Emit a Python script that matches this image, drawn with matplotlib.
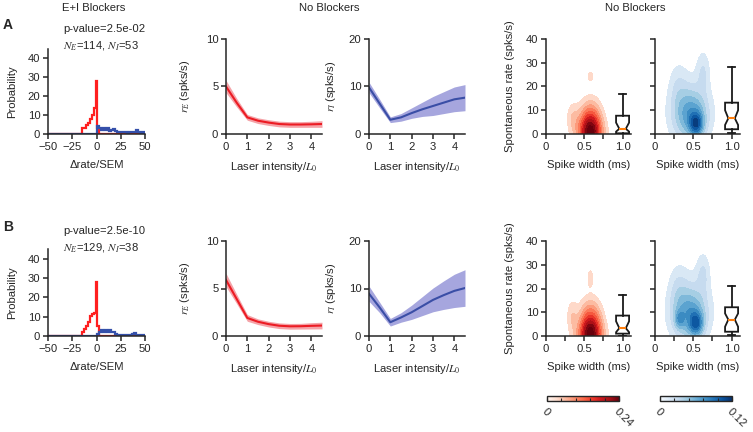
"""
Spike-rate panels: E+I blocker histograms, laser response curves and spike width densities
"""
import numpy as np
import matplotlib
matplotlib.use("Agg")
import matplotlib.pyplot as plt
from matplotlib.colors import Normalize
from matplotlib.colorbar import ColorbarBase

plt.rcParams['font.family'] = ['Liberation Sans', 'DejaVu Sans']
plt.rcParams['mathtext.fontset'] = 'stix'
plt.rcParams['font.size'] = 8.1
plt.rcParams['axes.linewidth'] = 1.1
plt.rcParams['text.color'] = '#262626'
plt.rcParams['axes.labelcolor'] = '#262626'
plt.rcParams['axes.edgecolor'] = '#262626'
plt.rcParams['xtick.color'] = '#262626'
plt.rcParams['ytick.color'] = '#262626'

# ---- histogram of delta rate / SEM (bin width 2, centres -50..50) ----
hist_centers = np.arange(-50, 51, 2)
hist_edges = np.arange(-51, 52, 2)

e_hist_a_centers = [-14, -12, -10, -8, -6, -4, -2, 0, 2]
e_hist_a_values = [3, 3, 5, 6, 8, 10, 14, 28, 3]
i_hist_a_centers = [2, 4, 6, 8, 10, 12, 14, 16, 18, 20, 22, 24, 26, 28, 30,
                    32, 34, 36, 38, 40, 42, 44, 46, 48, 50]
i_hist_a_values = [4, 3, 2, 3, 2, 3, 1.5, 2, 2.5, 1.5, 1, 1, 1, 1, 1,
                   0.5, 1, 1, 1, 1, 2, 1, 0.5, 1, 0.5]

e_hist_b_centers = [-14, -12, -10, -8, -6, -4, -2, 0, 2]
e_hist_b_values = [2, 3.5, 5, 7.5, 10.5, 11.5, 12, 28, 5]
i_hist_b_centers = [2, 4, 6, 8, 10, 12, 14, 16, 18, 20, 22, 24, 26, 28, 30,
                    32, 34, 36, 38, 40, 42, 44, 46, 48, 50]
i_hist_b_values = [1, 2, 3, 2, 3, 2, 3, 2, 2, 1, 0.5, 0.5, 0.5, 0.5, 0.5,
                   0.5, 0.5, 0.5, 1, 1.5, 0.5, 0.5, 0.5, 0.5, 0.5]

p_values = ["2.5e-02", "2.5e-10"]
n_e = [114, 129]
n_i = [53, 38]

# ---- laser intensity responses ----
laser = [0, 0.5, 1, 1.5, 2, 2.5, 3, 3.5, 4, 4.5]
r_e_a = [5.0, 3.3, 1.75, 1.4, 1.2, 1.05, 1.0, 1.0, 1.02, 1.05]
r_e_a_err = [0.65, 0.45, 0.3, 0.3, 0.3, 0.3, 0.3, 0.3, 0.32, 0.35]
r_i_a = [9.8, 6.4, 3.0, 3.5, 4.4, 5.2, 5.9, 6.6, 7.3, 7.65]
r_i_a_err = [1.1, 0.9, 0.6, 0.8, 1.1, 1.5, 2.0, 2.3, 2.6, 2.75]
r_e_b = [5.9, 3.9, 1.9, 1.5, 1.25, 1.08, 1.02, 1.03, 1.07, 1.1]
r_e_b_err = [0.7, 0.5, 0.35, 0.3, 0.3, 0.3, 0.3, 0.3, 0.33, 0.35]
r_i_b = [8.9, 6.0, 2.9, 3.9, 5.0, 6.3, 7.6, 8.6, 9.5, 10.1]
r_i_b_err = [1.6, 1.1, 0.8, 1.0, 1.5, 2.0, 2.5, 3.0, 3.5, 3.85]

# ---- spike width / spontaneous rate densities: (width, rate, sd_w, sd_r, peak) ----
e_blobs_a = [(0.58, 2.0, 0.10, 7.0, 0.21),
             (0.57, 0.0, 0.14, 4.0, 0.05),
             (0.35, 7.0, 0.06, 4.5, 0.04),
             (0.58, 24.2, 0.03, 1.8, 0.036)]
i_blobs_a = [(0.54, 4.0, 0.06, 3.5, 0.06),
             (0.47, 8.0, 0.15, 7.0, 0.045),
             (0.45, 10.0, 0.20, 11.0, 0.025),
             (0.63, 27.0, 0.06, 6.0, 0.02),
             (0.30, 21.0, 0.08, 7.0, 0.013)]
e_blobs_b = [(0.58, 2.0, 0.10, 7.5, 0.21),
             (0.57, 0.0, 0.14, 4.0, 0.05),
             (0.34, 8.5, 0.05, 5.0, 0.04),
             (0.58, 24.6, 0.03, 3.0, 0.036)]
i_blobs_b = [(0.54, 5.0, 0.06, 3.5, 0.055),
             (0.32, 7.0, 0.04, 2.5, 0.03),
             (0.45, 9.0, 0.15, 7.0, 0.045),
             (0.45, 12.0, 0.20, 11.0, 0.025),
             (0.63, 27.0, 0.06, 6.0, 0.02),
             (0.30, 21.0, 0.08, 7.0, 0.013)]

# box stats: (whislo, q1, cilo, med, cihi, q3, whishi)
e_box_a = (0.0, 0.3, 1.0, 2.2, 4.8, 7.7, 16.7)
i_box_a = (0.3, 2.0, 3.8, 6.6, 10.0, 13.2, 28.3)
e_box_b = (0.0, 1.0, 1.6, 3.3, 6.2, 8.6, 17.3)
i_box_b = (0.3, 1.8, 3.9, 6.9, 9.5, 12.1, 21.0)

E_MAX = 0.24
I_MAX = 0.12

W, H = 753, 432
RED = '#ec1c24'
BLUE = '#3a4ea6'
HIST_RED = '#ff1f1f'
HIST_BLUE = '#3550aa'


def px_axes(fig, x0, y0, x1, y1):
    return fig.add_axes([x0 / W, 1 - y1 / H, (x1 - x0) / W, (y1 - y0) / H])


def style(ax):
    for side in ('top', 'right'):
        ax.spines[side].set_visible(False)
    ax.tick_params(length=3.5, width=1.1, pad=2)


def full_counts(centers, values):
    counts = np.zeros(len(hist_centers))
    for c, v in zip(centers, values):
        counts[np.searchsorted(hist_centers, c)] = v
    return counts


def plot_hist(ax, e_c, e_v, i_c, i_v):
    ax.stairs(full_counts(e_c, e_v), hist_edges, color=HIST_RED, lw=1.6)
    ax.stairs(full_counts(i_c, i_v), hist_edges, color=HIST_BLUE, lw=1.6)
    ax.set_xlim(-50, 50)
    ax.set_ylim(0, 45)
    ax.set_xticks([-50, -25, 0, 25, 50])
    ax.set_yticks([0, 10, 20, 30, 40])
    ax.set_ylabel("Probability")
    ax.set_xlabel("\u0394rate/SEM", labelpad=6)
    ax.yaxis.set_label_coords(-0.32, 0.5)
    style(ax)


def plot_curve(ax, y, err, color, band, ymax, label, label_x):
    y = np.array(y)
    err = np.array(err)
    ax.fill_between(laser, y - err, y + err, color=band, lw=0)
    ax.plot(laser, y, color=color, lw=1.5)
    ax.set_xlim(0, 4.5)
    ax.set_ylim(0, ymax)
    ax.set_xticks([0, 1, 2, 3, 4])
    ax.set_yticks([0, ymax / 2, ymax])
    ax.set_yticklabels(["0", str(int(ymax / 2)), str(int(ymax))])
    ax.set_xlabel("Laser intensity/$L_0$", labelpad=6)
    ax.set_ylabel(label)
    ax.yaxis.set_label_coords(label_x, 0.5)
    style(ax)


def plot_density(ax, blobs, box, cmap, vmax, show_ylabel):
    xg, yg = np.meshgrid(np.linspace(0, 1.12, 300), np.linspace(-12, 42, 300))
    z = np.zeros_like(xg)
    for cx, cy, sx, sy, peak in blobs:
        z += peak * np.exp(-0.5 * (((xg - cx) / sx) ** 2 + ((yg - cy) / sy) ** 2))
    levels = np.linspace(vmax / 10, vmax, 10)
    ax.contourf(xg, yg, z, levels=levels, cmap=cmap,
                norm=Normalize(0, vmax), extend='max')
    whislo, q1, cilo, med, cihi, q3, whishi = box
    stats = [dict(whislo=whislo, q1=q1, cilo=cilo, med=med, cihi=cihi,
                  q3=q3, whishi=whishi, fliers=[])]
    ax.bxp(stats, positions=[1.0], widths=0.17, shownotches=True,
           showfliers=False, patch_artist=True, manage_ticks=False,
           boxprops=dict(facecolor='white', edgecolor='#1a1a1a', lw=1.3),
           whiskerprops=dict(color='#1a1a1a', lw=1.3),
           capprops=dict(color='#1a1a1a', lw=1.3),
           medianprops=dict(color='#ff7f0e', lw=1.5), zorder=3)
    ax.set_xlim(0, 1.11)
    ax.set_ylim(0, 40)
    ax.set_xticks([0, 0.25, 0.5, 0.75, 1.0])
    ax.set_xticklabels(["0", "", "0.5", "", "1.0"])
    ax.set_yticks([0, 10, 20, 30, 40])
    ax.set_xlabel("Spike width (ms)", labelpad=6)
    if show_ylabel:
        ax.set_ylabel("Spontaneous rate (spks/s)")
        ax.yaxis.set_label_coords(-0.36, 0.5)
    else:
        ax.set_yticklabels([])
    style(ax)


def plot_colorbar(cax, cmap, vmax, label):
    cb = ColorbarBase(cax, cmap=cmap, norm=Normalize(0, vmax),
                      orientation='horizontal',
                      ticks=np.linspace(0, vmax, 6))
    cb.outline.set_linewidth(1.0)
    cax.set_xticklabels(["0", "", "", "", "", label], rotation=-45,
                        ha='left', va='top', rotation_mode='anchor')
    cax.tick_params(direction='in', length=2.5, width=0.8, pad=4)


fig = plt.figure(figsize=(W / 100, H / 100), dpi=100)

rows = [(39, 134, 49), (241, 336, 249)]
e_hists = [(e_hist_a_centers, e_hist_a_values), (e_hist_b_centers, e_hist_b_values)]
i_hists = [(i_hist_a_centers, i_hist_a_values), (i_hist_b_centers, i_hist_b_values)]
r_e = [(r_e_a, r_e_a_err), (r_e_b, r_e_b_err)]
r_i = [(r_i_a, r_i_a_err), (r_i_b, r_i_b_err)]
e_blobs = [e_blobs_a, e_blobs_b]
i_blobs = [i_blobs_a, i_blobs_b]
e_boxes = [e_box_a, e_box_b]
i_boxes = [i_box_a, i_box_b]

for k, (top, bottom, hist_top) in enumerate(rows):
    ax = px_axes(fig, 48, hist_top, 145, bottom)
    plot_hist(ax, *e_hists[k], *i_hists[k])
    fig.text(63 / W, 1 - (top - 10) / H, "p-value=" + p_values[k], va='center')
    fig.text(63 / W, 1 - (top + 7) / H,
             "$N_E$=%d, $N_I$=%d" % (n_e[k], n_i[k]), va='center')
    fig.text(3 / W, 1 - (top - 14) / H, "AB"[k], fontsize=10,
             fontweight='bold', va='center')

    ax = px_axes(fig, 226, top, 322, bottom)
    plot_curve(ax, *r_e[k], RED, '#f5a3a8', 10, "$r_E$ (spks/s)", -0.35)

    ax = px_axes(fig, 369, top, 465, bottom)
    plot_curve(ax, *r_i[k], BLUE, '#a6a6de', 20, "$r_I$ (spks/s)", -0.32)

    ax = px_axes(fig, 546, top, 631, bottom)
    plot_density(ax, e_blobs[k], e_boxes[k], 'Reds', E_MAX, True)

    ax = px_axes(fig, 655, top, 740, bottom)
    plot_density(ax, i_blobs[k], i_boxes[k], 'Blues', I_MAX, False)

fig.text(94 / W, 1 - 8 / H, "E+I Blockers", ha='center', va='center')
fig.text(329 / W, 1 - 8 / H, "No Blockers", ha='center', va='center')
fig.text(635 / W, 1 - 8 / H, "No Blockers", ha='center', va='center')

plot_colorbar(px_axes(fig, 547, 396, 619, 401), 'Reds', E_MAX, "0.24")
plot_colorbar(px_axes(fig, 660, 396, 732, 401), 'Blues', I_MAX, "0.12")

fig.savefig("out.png", dpi=100, facecolor='white')
